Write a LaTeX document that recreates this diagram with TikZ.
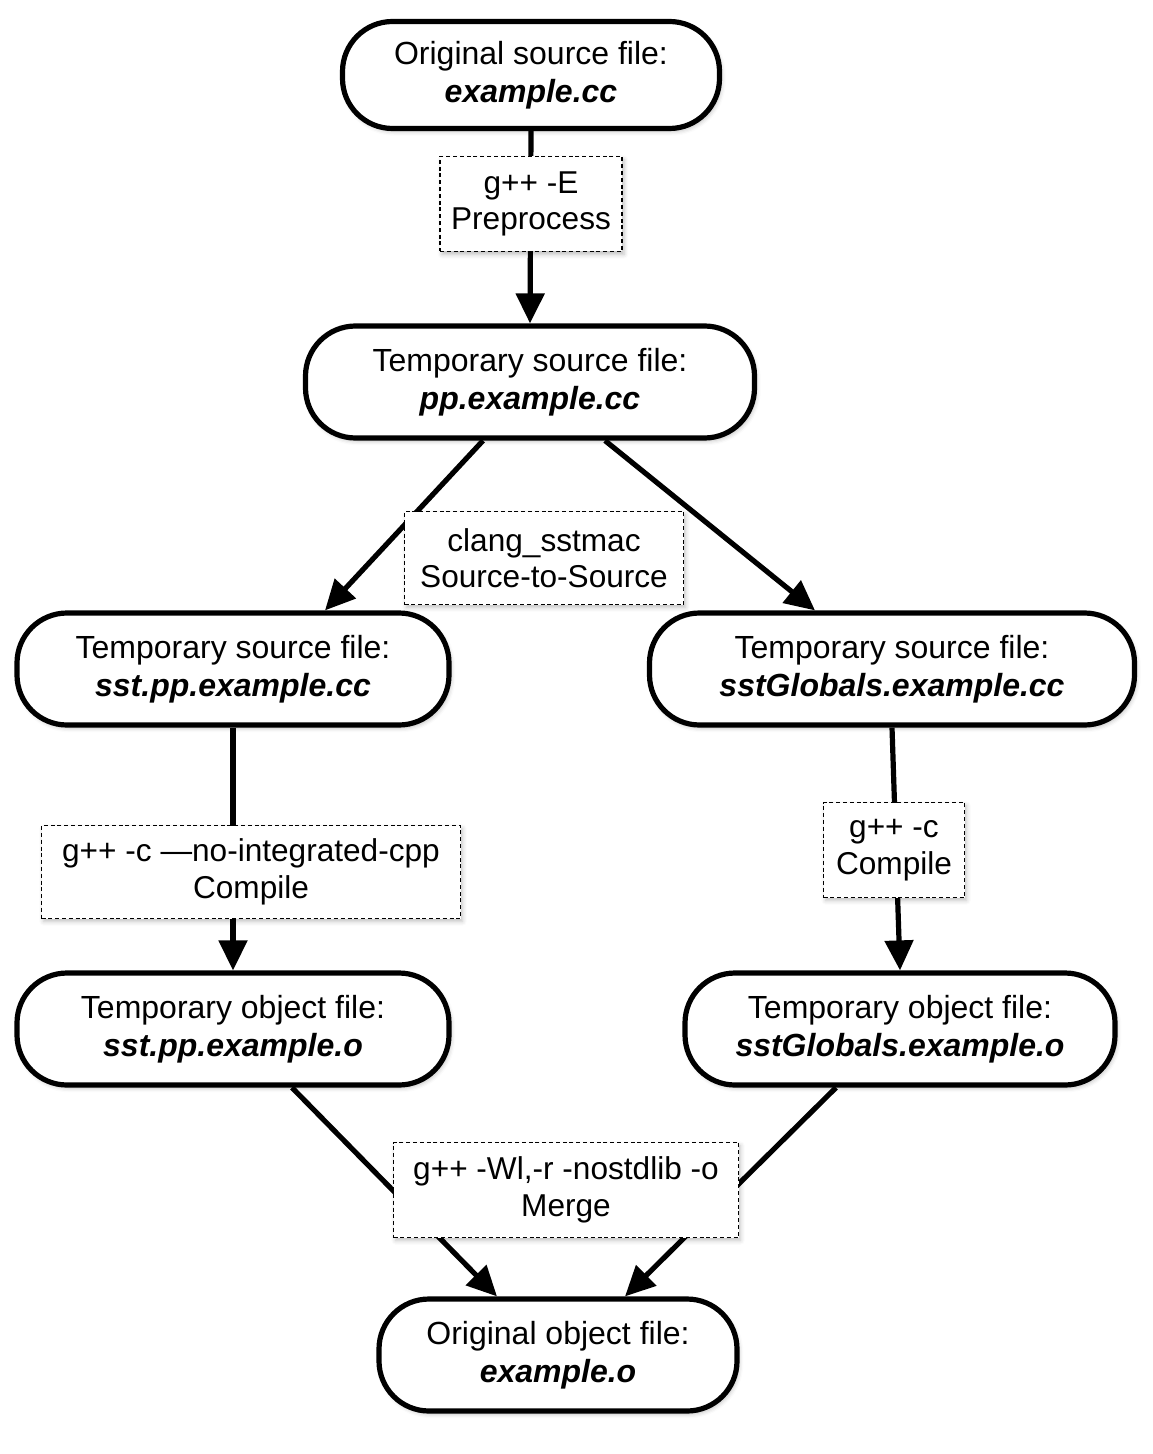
\documentclass[tikz,border=0pt]{standalone}
\usepackage{fontspec}
\setmainfont{Liberation Sans}
\usetikzlibrary{arrows.meta,calc,shadows.blur}
\begin{document}
\begin{tikzpicture}[x=0.5pt,y=-0.5pt,
  filebox/.style={draw, line width=2.6pt, rounded corners=25pt, fill=white, align=center,
    font=\fontsize{16}{19.2}\selectfont, minimum height=56pt, inner sep=2pt,
    blur shadow={shadow xshift=1pt, shadow yshift=-1.5pt, shadow opacity=25, shadow blur steps=4}},
  stepbox/.style={draw, line width=0.8pt, dash pattern=on 2pt off 1.4pt, fill=white, align=center,
    font=\fontsize{15.8}{18.2}\selectfont, minimum height=46.5pt, inner sep=2pt,
    blur shadow={shadow xshift=1pt, shadow yshift=-1.5pt, shadow opacity=25, shadow blur steps=4}},
  flow/.style={line width=2.6pt, -{Triangle[length=15pt,width=14pt]}}
]
\useasboundingbox (0,0) rectangle (1152,1454);

\node[filebox, minimum width=188.5pt, minimum height=53.5pt] (n1) at (531,75)
  {Original source file:\\{\bfseries\itshape example.cc}};
\node[filebox, minimum width=224.5pt] (n2) at (530,382)
  {Temporary source file:\\{\bfseries\itshape pp.example.cc}};
\node[filebox, minimum width=216pt] (n3) at (233,669)
  {Temporary source file:\\{\bfseries\itshape sst.pp.example.cc}};
\node[filebox, minimum width=242.5pt] (n4) at (892,669)
  {Temporary source file:\\{\bfseries\itshape sstGlobals.example.cc}};
\node[filebox, minimum width=216pt] (n5) at (233,1029)
  {Temporary object file:\\{\bfseries\itshape sst.pp.example.o}};
\node[filebox, minimum width=215pt] (n6) at (900,1029)
  {Temporary object file:\\{\bfseries\itshape sstGlobals.example.o}};
\node[filebox, minimum width=179pt] (n7) at (558,1355)
  {Original object file:\\{\bfseries\itshape example.o}};

\draw[flow] (n1.south) -- (n2.north);
\draw[flow] ($(n2.south)+(-47,0)$) -- ($(n3.north)+(92,0)$);
\draw[flow] ($(n2.south)+(75,0)$) -- ($(n4.north)+(-77,0)$);
\draw[flow] (n3.south) -- (n5.north);
\draw[flow] (n4.south) -- (n6.north);
\draw[flow] ($(n5.south)+(59,0)$) -- ($(n7.north)+(-61,0)$);
\draw[flow] ($(n6.south)+(-64,0)$) -- ($(n7.north)+(67,0)$);

\node[stepbox, minimum width=91pt, minimum height=47.5pt] (sa) at (531,204) {g++ -E\\Preprocess};
\node[stepbox, minimum width=139.5pt] (sb) at (544,558) {clang\_sstmac\\Source-to-Source};
\node[stepbox, minimum width=209.5pt] (sc) at (251,872) {g++ -c —no-integrated-cpp\\Compile};
\node[stepbox, minimum width=70.5pt, minimum height=47.5pt] (sd) at (894,850) {g++ -c\\Compile};
\node[stepbox, minimum width=172.5pt, minimum height=47.5pt] (se) at (566,1190) {g++ -Wl,-r -nostdlib -o\\Merge};
\end{tikzpicture}
\end{document}
